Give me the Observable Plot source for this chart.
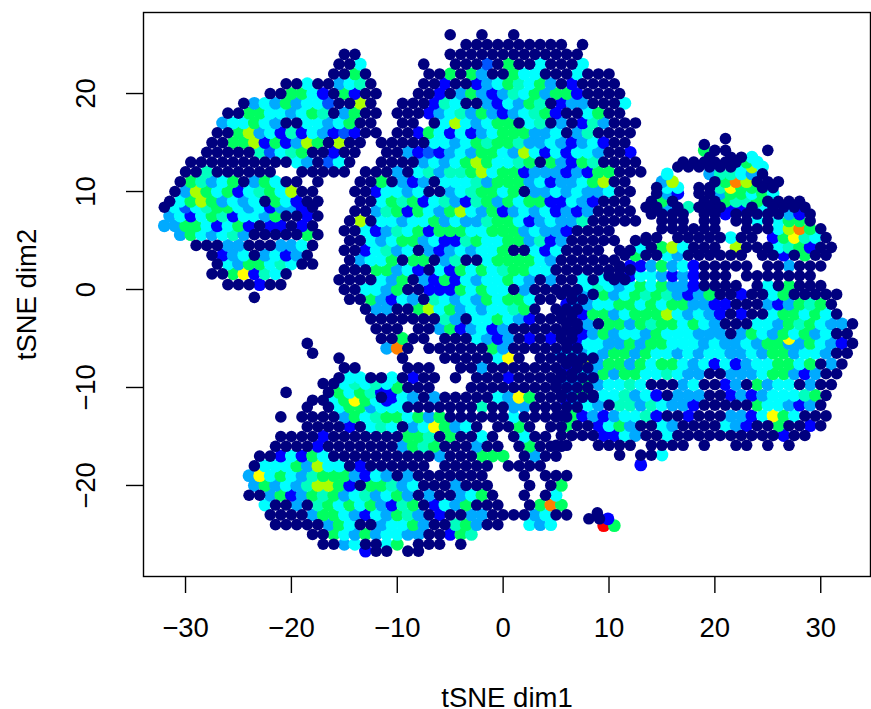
<!DOCTYPE html>
<html><head><meta charset="utf-8">
<style>html,body{margin:0;background:#fff}svg{display:block}svg text{font-size:27.5px !important}</style>
<script src="https://cdn.jsdelivr.net/npm/d3@7"></script>
<script src="https://cdn.jsdelivr.net/npm/@observablehq/plot@0.6"></script>
</head><body><div id="chart"></div>
<script>
// Density level, per letter.
const levelColors = {n:"#00007F",b:"#0000FF",d:"#0055FF",a:"#00AAFF",c:"#00FFFF",s:"#00FFC0",g:"#00FF60",h:"#00FF00",l:"#AAFF00",y:"#FFFF00",o:"#FF8000",r:"#FF0000"};
// Each row: [tSNE dim2, tSNE dim1 of first point, one level letter per point (dim1 step 1, "." = none)]
const rowsTopLeft = [
[24,-15,"nn"],[23,-15.5,"nnc"],[22,-16,"nngn"],[21,-20.5,"nncnnacsn"],[20,-22,"nnggcbngbnn"],
[19,-24.5,"nacagaccdnnln"],[18,-26,"nnggccacgsnagnn"],[17,-26.5,"accgcannccacgnn"],[16,-27,"nnglacbsbcabdbnn"],
[15,-27.5,"nngglbgbalgnlnn"],[14,-28,"nnnnnsdcsgnnbnn"],[13,-29.5,"nnnnnnnnnncandcn"],[12,-30,"nnsnnnnnn..nnnnn"]];
const rowsLeft = [
[11,-30.5,"ngsacgnagcnn.n"],[10,-31,"nalgcgbcsgclnn"],[9,-31.5,"ncglgacacngcbnn"],[8.4,-32,"ncdcsggcacbaabn"],
[7.5,-31.5,"acbcgsbccagnnbn"],[6.5,-32,"aaggcbcgbnbbnbn"],[5.6,-30.5,"agcacsannnnngn"],[4.5,-29,"nnnaannnaacn"],
[3.5,-27.5,"nbacnacban"],[2.6,-27,"ncaggcscnn"],[1.6,-27.5,"nngybscn"],[0.5,-26,"nnnbnn"],[-0.8,-23.5,"n"]];
const rowsCenterTop = [
[26,-5,"n..n..n"],[25,-3.5,"nnnnnnnnnn.n"],[24,-5,"nnnnnnnnnnnnn"],[23,-7.5,"n..nnndngnncnnnc"],[22,-7,"nngnganngccnnncnnn"],
[21,-7.5,"nnbnnbacgscganbnnnn"],[20,-8,"nnbnagabascgaggbnnnn"],[19,-9.5,"nnnbscnnabcagsnbaannnc"],[18,-10,"nnnbacsagabacsgbnncgnn"],
[17,-9.5,"nn.nclcacggncsnanbsannn"],[16,-10,"nnbgcbcbacgggaacnasnnnn"],[15,-11.5,"nnnnnccacgsggsaacabacbnn"],[14,-11,"nnabdbacaggcalcbcbccannb"],
[13,-11.5,"nnnnacacglgccsgngabgsnnnn"],[12,-13,"nnnancsassglcggbaaababggnnn"],[11,-13.5,"nngnabanccc".concat("sagggacbaacglnn")]];
const rowsCenterMid = [
[10,-14,"nnbccacnnacsggcgnaacacaacnn"],[9,-13.5,"nncgsgbcsabsgagcggbbcabnnn"],[8,-14,"nnasgbgcaglcagbacacbabannnn"],
[7,-14.5,"nlnccaccgacaasggcbacaasnnnnn"],[6,-15,"nncbascgbgggccgggacaabnnnn"],[5,-14.5,"nncacggacbbsgccggasbannnnn.nn"],
[4,-15,"nnbcsacnabacaccgnncbcnnnn.nn"],[3,-14.5,"naccgnggnasnncggggcannnnnn"],[2,-15,"nnnggacbncbgcgcsggccnnnnnnnn"],
[1,-15.5,"nnnncagnabgbcaccgcananncncnn"],[0,-15,"nnccagnnbbbgcgccnannnnn"],[-1,-14.5,"nngabcanscacagcggcnn.nn"],
[-2,-13,"naannglcgacaccsgn.nnn"],[-3,-12.5,"nnnnnnnsanccgcabnnnn"],[-4,-12,"nnn.nnagbacbannnnnnn"],
[-5,-11.5,"nngnn.nnncabanbnbnn"],[-6,-11,"aon.nnnnnngannnnnnn"],[-7,-9.5,"n...nnnnncyn.nnnnnn"],
[-8,-9,"nnn..nnannnnnnnbnn"],[-9,-9.5,"nbnn.n.nnnbnnnnnnnn"],[-10,-11,"bgnnn...nnnnnnnnnnnn"],[-11,-11.5,"nbcanannnnncaygnnnnnn"],
[-12,-9,"nnnnnnnsnnaannnnn"]];
const rowsLowerLeft = [
[-5.5,-18.5,"n"],[-6.5,-18,"n"],[-7,-15.5,"n"],[-8,-15,"nn"],[-9,-15.5,"nccnnc"],[-9.6,-17,"nncscsc"],[-10.5,-20.5,"n...ngcgsb"],
[-11.3,-18,"nncgygcbcc"],[-12,-18.5,"n.ncggaccc"],[-13,-21,"n.nnnnagcsggcgagnnnnnncnnnnn"],
[-14,-18.5,"nnnnbncscnacygacn.nngn.nn"],[-15,-21,"nnnnbnnnnnnnggsngnncn.ncnn"],[-16,-21.5,"nnnnbnnnnnnnagsgnnnann.ngnnn"],
[-17,-23,"nnbcbgcnnnnnnnnnnannnggg.nann"],[-18,-23.5,"ncccgalccnbnnnnnn.nnnnn.nnnn"],[-19,-24,"aycgcasgggabcanannnnnnn...n.nnn"],
[-20,-23.5,"agacasllgbnggsacnnnannn...n.ng"],[-21,-24,"nnagbagsgacsacganannacgn..n.nc"],[-22,-22.5,"cnnansgcgcgabsgnbcagnnn..ngog"],
[-23,-22,"nnnnaggcabcagsanbnnaannnnacnn"],[-24,-21.5,"nnnnnagcnnaccgannsgann..cac"],[-25,-18,"nngcagaccaannbgs"],
[-26,-17,"nnacnncg.nnn.n"],[-26.7,-13,"bnn.nn"]];
const rowsTiny = [[-23.4,8.1,"nn"],[-22.8,8.9,"n"],[-23.4,9.9,"b"],[-24.1,9.5,"rg"]];
const rowsRightTop = [
[15.4,21,"n"],[14.8,19,"n"],[14.2,19,"gnn...n"],[13.5,19.5,"n.nnc"],[13,17,"nnnnnngc"],[12.5,16.5,"nnnnnnclc"],
[11.8,15.5,"c...asscan"],[11,15,"al...ngolnnn"],[10.4,14.5,"ncc.nnsyggnn"],[9.8,14.5,"nab.nnaggcgc"],[9,14,"ngn..nngssgnnnn"],
[8.4,13.5,"nnansnnnbbncnnnn"],[7.7,14,"nnnn.nnbnnnnnabn"],[7,15,"nnn.nn.nncncggn"],[6.2,15,"nnnnnn..nnnclogn"],
[5.3,13.5,"nn.nnnnncnn.bgyscn"],[4.3,13,"cnglcnnn.lnnncsgbnn"],[3.5,11.5,"ngnncannnnnn.nnbngnn"],[2.4,11,"nbbagacbnnnnn.nnannn"],
[1.4,10,"nnbccababnnn.nnnnnnn"],[0.4,8,"cscacgcgaabnnnn.ncngnnn"]];
const rowsRightLow = [
[-0.5,5.5,"nnangacgsgsabagnnbnncgnnnnn"],[-1.5,6,"baaccggcgcggaabbnnnabagsgn"],[-2.5,5.5,"nnbggacggglcacabnbnncggcgcn"],
[-3.5,6,"nnanggagsggcgcannnccagsgcaan"],[-4.5,5.5,"nnbagaccagcccaaanagcagcgacnn"],[-5,27,"y"],[-5.5,6,"nbccaagaggcccacaacaggaagcabn"],
[-6.5,5.5,"acacaggagccacaccaacaggaccann"],[-7.6,6,"nnlaggagcggcacbcbaccggcgnan"],[-8.6,5.5,"nncagaggccscaannaaacggabann"],
[-9.7,5,"naagaccscnnnacnnbangaccnann"],[-10.8,5.5,"nagnccsacbnaaannbabacccsgn"],[-11.8,6,"bacanssascaabnnnnngccaban"],
[-12.9,5.5,"ngbabaccsbnnbnnnaabcygcnnn"],[-13.9,6,"gnnbcganncannnncabnngnnbn"],[-14.9,5.5,"nnnnbbcanncnnnnnnnnnnbnn"],
[-15.9,5,"nn..nnnn.nnnn.n"],[-15.9,22,"nn.n.n"],[-16.9,11,"n.nnc"],[-17.9,13,"b"]];
const xTicks = [-30,-20,-10,0,10,20,30];
const yTicks = [-20,-10,0,10,20];
const xLabel = "tSNE dim1", yLabel = "tSNE dim2";

const points = [rowsTopLeft,rowsLeft,rowsCenterTop,rowsCenterMid,rowsLowerLeft,rowsTiny,rowsRightTop,rowsRightLow].flat()
  .flatMap(([y,x0,codes]) => [...codes].map((c,i) => ({x:x0+i,y,c})).filter(d => d.c !== "."));
const colored = points.filter(d => d.c !== "n").sort((a,b) => a.y - b.y);
const navy = points.filter(d => d.c === "n");
const fmt = d => String(d).replace("-","\u2212");

const chart = Plot.plot({
  width:871, height:709, marginLeft:143, marginRight:1, marginTop:12, marginBottom:133,
  style:{fontFamily:"'Liberation Sans',Arial,sans-serif",background:"#fff",color:"#000"},
  x:{domain:[-33.97,34.7]}, y:{domain:[-29.29,28.27]},
  color:{type:"identity"},
  marks:[
    Plot.dot(colored,{x:"x",y:"y",r:6.4,fill:d => levelColors[d.c]}),
    Plot.dot(navy,{x:"x",y:"y",r:5.8,fill:levelColors.n}),
    Plot.frame({stroke:"#000",strokeWidth:1.4}),
    Plot.axisX(xTicks,{anchor:"bottom",tickSize:17,tickPadding:24,fontSize:21,strokeWidth:1.4,stroke:"#000",tickFormat:fmt,label:xLabel,labelAnchor:"center",labelArrow:"none",labelOffset:130}),
    Plot.axisY(yTicks,{anchor:"left",tickSize:17,tickPadding:32,fontSize:21,strokeWidth:1.4,stroke:"#000",tickFormat:fmt,tickRotate:-90,label:yLabel,labelAnchor:"center",labelArrow:"none",labelOffset:127})
  ]
});
document.getElementById("chart").append(chart);
</script></body></html>
